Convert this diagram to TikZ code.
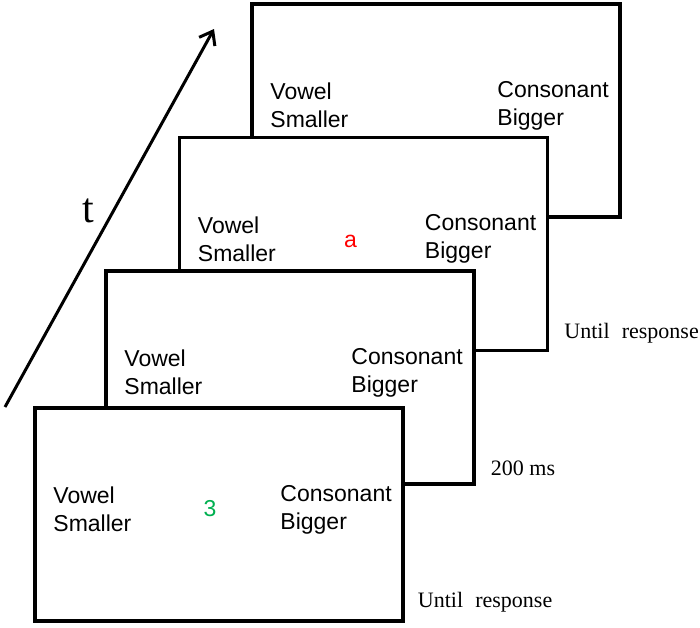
\documentclass[tikz,border=0pt]{standalone}
\usepackage{fontspec}
\setmainfont{Liberation Serif}
\setsansfont{Liberation Sans}
\usepackage{xcolor}
\definecolor{StimGreen}{HTML}{00B050}
\definecolor{StimRed}{HTML}{FF0000}
\usetikzlibrary{arrows.meta,positioning}

\begin{document}
\begin{tikzpicture}[x=1pt, y=-1pt, >={Straight Barb[length=12pt,width=18pt]},
  frame/.style={draw, line width=3.5pt, fill=white, minimum width=368pt, minimum height=213pt, inner sep=0pt},
  keys/.style={font=\sffamily\fontsize{23}{28}\selectfont, align=left, inner sep=0pt, anchor=west},
  stim/.style={font=\sffamily\fontsize{23}{28}\selectfont, inner sep=0pt},
  dur/.style={font=\fontsize{22}{26}\selectfont, inner sep=0pt, anchor=base west}]
  \useasboundingbox (0,0) rectangle (700,627);
  % time axis
  \coordinate (tstart) at (5,407);
  \coordinate (tend) at (214,29);
  \draw[->, line width=3pt] (tstart) -- node[pos=0.52, left=18pt, inner sep=0pt, font=\fontsize{42}{48}\selectfont] (tlabel) {t} (tend);
  % screens, back to front
  \node[frame] (s4) at (436,110.5) {};
  \node[keys] (s4vowel) at ([xshift=20pt,yshift=5pt]s4.west) {Vowel\\Smaller};
  \node[keys] (s4cons) at ([xshift=247pt,yshift=5pt]s4.west) {Consonant\\Bigger};

  \node[frame] (s3) at (363.5,244) {};
  \node[keys] (s3vowel) at ([xshift=20pt,yshift=5pt]s3.west) {Vowel\\Smaller};
  \node[keys] (s3cons) at ([xshift=247pt,yshift=5pt]s3.west) {Consonant\\Bigger};
  \node[stim, text=StimRed] (target) at ([xshift=-13pt,yshift=3pt]s3.center) {a};
  \node[dur] (s3time) at ([xshift=15pt,yshift=14pt]s3.south east) {Until\hspace{0.55em}response};

  \node[frame] (s2) at (290,377.5) {};
  \node[keys] (s2vowel) at ([xshift=20pt,yshift=5pt]s2.west) {Vowel\\Smaller};
  \node[keys] (s2cons) at ([xshift=247pt,yshift=5pt]s2.west) {Consonant\\Bigger};
  \node[dur] (s2time) at ([xshift=15pt,yshift=10pt]s2.south east) {200 ms};

  \node[frame] (s1) at (219,514.5) {};
  \node[keys] (s1vowel) at ([xshift=20pt,yshift=5pt]s1.west) {Vowel\\Smaller};
  \node[keys] (s1cons) at ([xshift=247pt,yshift=5pt]s1.west) {Consonant\\Bigger};
  \node[stim, text=StimGreen] (prime) at ([xshift=-9pt,yshift=6pt]s1.center) {3};
  \node[dur] (s1time) at ([xshift=13pt,yshift=15pt]s1.south east) {Until\hspace{0.55em}response};
\end{tikzpicture}
\end{document}
